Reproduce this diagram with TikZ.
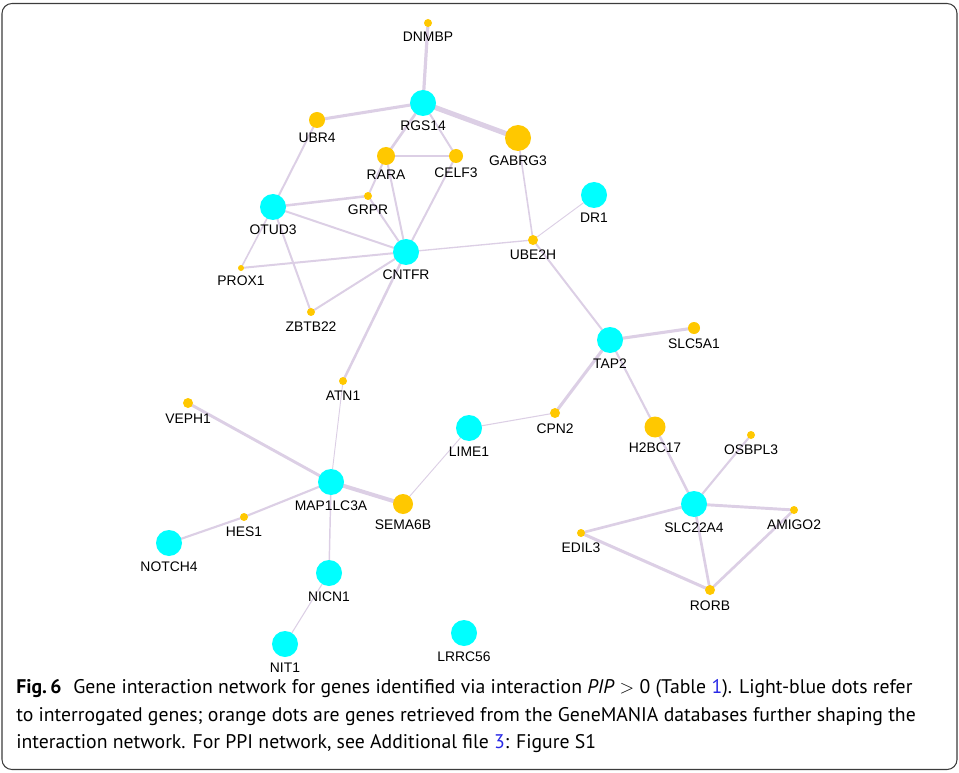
\documentclass[tikz,border=0pt]{standalone}
\usepackage{fontspec}
\setmainfont{Liberation Sans}
\newfontfamily\captfont{PT Sans}
\usetikzlibrary{backgrounds}
\definecolor{edgecol}{RGB}{220,207,229}
\definecolor{cyannode}{RGB}{0,255,255}
\definecolor{orangenode}{RGB}{255,200,0}
\definecolor{linkblue}{RGB}{40,40,230}
\definecolor{framecol}{RGB}{60,60,60}
\tikzset{
  x=0.75pt, y=-0.75pt,
  genebox/.style={circle, inner sep=0pt, outer sep=0pt, draw=none},
  qgene/.style={genebox, fill=cyannode},
  rgene/.style={genebox, fill=orangenode},
  glabel/.style={font=\fontsize{10.4}{12}\selectfont, anchor=base, inner sep=0pt},
  link/.style={draw=edgecol, line cap=round},
  captline/.style={anchor=base west, inner sep=0pt, font=\captfont\fontsize{14.8}{17}\selectfont}
}
% \gene{name}{x}{y}{radius px}{style}
\newcommand\gene[5]{%
  \node[#5, minimum size=#4*1.5pt] (#1) at (#2,#3) {};
  \node[glabel] (#1-l) at ([yshift=-#4*0.75pt-15*0.75pt]#1.center) {#1};
}
\begin{document}
\begin{tikzpicture}
\useasboundingbox (0,0) rectangle (959,773);
\draw[framecol, line width=0.8pt, rounded corners=7.5pt] (2,3.5) rectangle (957,769.5);

\gene{DNMBP}{428}{23}{4}{rgene}
\gene{RGS14}{423}{103}{13}{qgene}
\gene{UBR4}{317}{120}{8}{rgene}
\gene{GABRG3}{518}{138}{13}{rgene}
\gene{RARA}{386}{156}{9}{rgene}
\gene{CELF3}{456}{156}{7}{rgene}
\gene{GRPR}{368}{196}{4}{rgene}
\gene{OTUD3}{273}{207}{13}{qgene}
\gene{DR1}{594}{195}{13}{qgene}
\gene{UBE2H}{533}{240}{5}{rgene}
\gene{CNTFR}{406}{252}{13}{qgene}
\gene{PROX1}{241}{268}{3}{rgene}
\gene{ZBTB22}{311}{312}{4}{rgene}
\gene{TAP2}{610}{340}{13}{qgene}
\gene{SLC5A1}{694}{328}{6}{rgene}
\gene{ATN1}{343}{381}{4}{rgene}
\gene{VEPH1}{188}{403}{5}{rgene}
\gene{CPN2}{555}{413}{5}{rgene}
\gene{LIME1}{469}{428}{13}{qgene}
\gene{H2BC17}{655}{427}{10.5}{rgene}
\gene{OSBPL3}{751}{435}{4}{rgene}
\gene{MAP1LC3A}{331}{482}{13}{qgene}
\gene{SEMA6B}{403}{504}{10}{rgene}
\gene{HES1}{244}{517}{4}{rgene}
\gene{SLC22A4}{694}{504}{13}{qgene}
\gene{AMIGO2}{794}{510}{4}{rgene}
\gene{EDIL3}{581}{533}{4}{rgene}
\gene{NOTCH4}{169}{543}{13}{qgene}
\gene{NICN1}{329}{573}{13}{qgene}
\gene{RORB}{710}{590}{5}{rgene}
\gene{NIT1}{285}{644}{13}{qgene}
\gene{LRRC56}{464}{633}{13}{qgene}

\begin{scope}[on background layer]
\draw[link, line width=2.4pt] (DNMBP) -- (RGS14);
\draw[link, line width=2.3pt] (RGS14) -- (UBR4);
\draw[link, line width=3.8pt] (RGS14) -- (GABRG3);
\draw[link, line width=2pt] (RGS14) -- (RARA);
\draw[link, line width=1.5pt] (RGS14) -- (CELF3);
\draw[link, line width=1.5pt] (RARA) -- (CELF3);
\draw[link, line width=1.5pt] (RARA) -- (GRPR);
\draw[link, line width=1.5pt] (RARA) -- (CNTFR);
\draw[link, line width=1.5pt] (CELF3) -- (CNTFR);
\draw[link, line width=1.9pt] (GRPR) -- (OTUD3);
\draw[link, line width=1.5pt] (GRPR) -- (CNTFR);
\draw[link, line width=1.5pt] (UBR4) -- (OTUD3);
\draw[link, line width=1.5pt] (OTUD3) -- (CNTFR);
\draw[link, line width=1.2pt] (OTUD3) -- (PROX1);
\draw[link, line width=1.5pt] (OTUD3) -- (ZBTB22);
\draw[link, line width=1.5pt] (PROX1) -- (CNTFR);
\draw[link, line width=1.5pt] (ZBTB22) -- (CNTFR);
\draw[link, line width=1pt] (CNTFR) -- (UBE2H);
\draw[link, line width=1.2pt] (GABRG3) -- (UBE2H);
\draw[link, line width=0.7pt] (UBE2H) -- (DR1);
\draw[link, line width=1.5pt] (UBE2H) -- (TAP2);
\draw[link, line width=1.9pt] (CNTFR) -- (ATN1);
\draw[link, line width=0.7pt] (ATN1) -- (MAP1LC3A);
\draw[link, line width=2.3pt] (TAP2) -- (SLC5A1);
\draw[link, line width=2.3pt] (TAP2) -- (CPN2);
\draw[link, line width=1.6pt] (TAP2) -- (H2BC17);
\draw[link, line width=0.8pt] (CPN2) -- (LIME1);
\draw[link, line width=0.7pt] (LIME1) -- (SEMA6B);
\draw[link, line width=3pt] (MAP1LC3A) -- (SEMA6B);
\draw[link, line width=2.2pt] (MAP1LC3A) -- (VEPH1);
\draw[link, line width=1.6pt] (MAP1LC3A) -- (HES1);
\draw[link, line width=1.6pt] (HES1) -- (NOTCH4);
\draw[link, line width=1.1pt] (MAP1LC3A) -- (NICN1);
\draw[link, line width=0.8pt] (NICN1) -- (NIT1);
\draw[link, line width=1.9pt] (H2BC17) -- (SLC22A4);
\draw[link, line width=1.6pt] (OSBPL3) -- (SLC22A4);
\draw[link, line width=2.2pt] (SLC22A4) -- (AMIGO2);
\draw[link, line width=2pt] (SLC22A4) -- (EDIL3);
\draw[link, line width=2pt] (SLC22A4) -- (RORB);
\draw[link, line width=2.3pt] (EDIL3) -- (RORB);
\draw[link, line width=2pt] (AMIGO2) -- (RORB);
\end{scope}

\node[captline] (cap1) at (16,693) {\textbf{Fig.\,6}\hspace{0.6em}Gene interaction network for genes identified via interaction \textit{PIP}~$>$~0 (Table~\textcolor{linkblue}{1}). Light-blue dots refer};
\node[captline] (cap2) at (16,721) {to interrogated genes; orange dots are genes retrieved from the GeneMANIA databases further shaping the};
\node[captline] (cap3) at (16,748) {interaction network. For PPI network, see Additional file~\textcolor{linkblue}{3}: Figure S1};
\end{tikzpicture}
\end{document}
